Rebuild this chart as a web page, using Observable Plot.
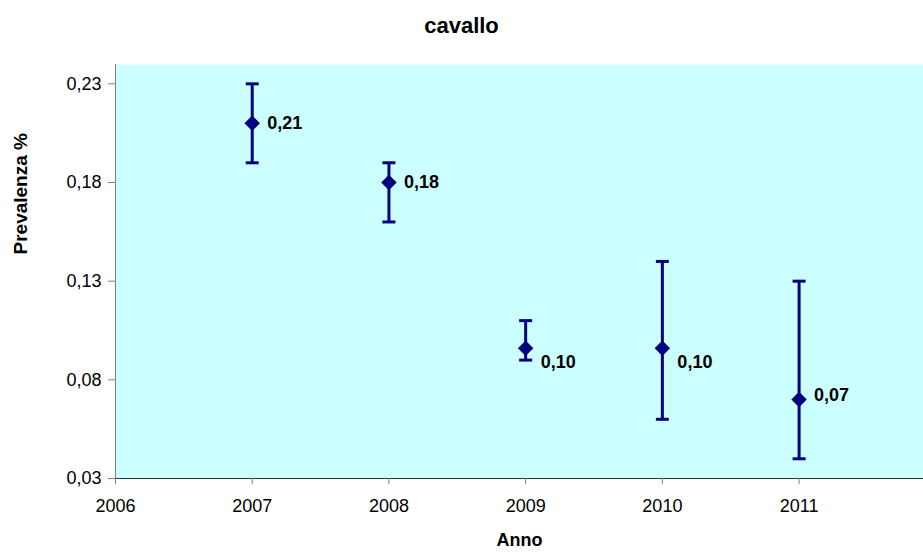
<!DOCTYPE html>
<html>
<head>
<meta charset="utf-8">
<script src="https://cdn.jsdelivr.net/npm/d3@7"></script>
<script src="https://cdn.jsdelivr.net/npm/@observablehq/plot@0.6"></script>
<style>
  html, body { margin: 0; padding: 0; background: #ffffff; }
  #chart svg { display: block; }
</style>
</head>
<body>
<div id="chart"></div>
<script>
// ---- data ----
const years = [2007, 2008, 2009, 2010, 2011];
const prevalence = [0.21, 0.18, 0.096, 0.096, 0.07];
const lower = [0.19, 0.16, 0.09, 0.06, 0.04];
const upper = [0.23, 0.19, 0.11, 0.14, 0.13];
const xTicks = [2006, 2007, 2008, 2009, 2010, 2011];
const yTicks = [0.03, 0.08, 0.13, 0.18, 0.23];
const chartTitle = "cavallo";
const xTitle = "Anno";
const yTitle = "Prevalenza %";

const fmt = v => v.toFixed(2).replace(".", ",");
const rows = years.map((year, i) => ({
  year, value: prevalence[i], lo: lower[i], hi: upper[i], label: fmt(prevalence[i])
}));

const navy = "#000080";
const font = "'Liberation Sans', Arial, Helvetica, sans-serif";

const diamondSymbol = {
  draw(ctx) {
    const r = 7.75;
    ctx.moveTo(0, -r); ctx.lineTo(r, 0); ctx.lineTo(0, r); ctx.lineTo(-r, 0); ctx.closePath();
  }
};
const capSymbol = {
  draw(ctx) {
    const w = 6.5;
    ctx.moveTo(-w, 0); ctx.lineTo(w, 0);
  }
};

const labelShift = {2009: 14, 2010: 14, 2011: -4};

const chart = Plot.plot({
  width: 923,
  height: 552,
  marginLeft: 115,
  marginRight: 0,
  marginTop: 64,
  marginBottom: 74,
  x: {domain: [2006, 2011.91]},
  y: {domain: [0.03, 0.2398]},
  style: {fontFamily: font, background: "#ffffff", color: "#000000"},
  marks: [
    Plot.frame({fill: "#ccffff", stroke: null}),
    Plot.ruleX([2006], {stroke: "#808080", strokeWidth: 1}),
    Plot.ruleY([0.03], {stroke: "#333333", strokeWidth: 1.2}),
    Plot.axisY(yTicks, {
      tickSize: 7, tickPadding: 7, fontSize: 18, stroke: "#808080",
      tickFormat: fmt, label: null
    }),
    Plot.axisX(xTicks, {
      tickSize: 6, tickPadding: 15, fontSize: 18, stroke: "#808080",
      tickFormat: d => String(d), label: null
    }),
    Plot.ruleX(rows, {x: "year", y1: "lo", y2: "hi", stroke: navy, strokeWidth: 3}),
    Plot.dot(rows, {x: "year", y: "lo", symbol: capSymbol, stroke: navy, strokeWidth: 3, fill: "none"}),
    Plot.dot(rows, {x: "year", y: "hi", symbol: capSymbol, stroke: navy, strokeWidth: 3, fill: "none"}),
    Plot.dot(rows, {x: "year", y: "value", symbol: diamondSymbol, fill: navy, stroke: null}),
    ...[0, 14, -4].map(shift => Plot.text(rows, {
      filter: d => (labelShift[d.year] ?? 0) === shift,
      x: "year", y: "value", text: "label",
      dx: 15, dy: shift, textAnchor: "start", lineAnchor: "middle",
      fontWeight: "bold", fontSize: 18, fill: "#000000"
    })),
    Plot.text([chartTitle], {
      frameAnchor: "top", dx: -58, dy: -39, lineAnchor: "middle",
      fontWeight: "bold", fontSize: 22, fill: "#000000"
    }),
    Plot.text([xTitle], {
      frameAnchor: "bottom", dy: 62, lineAnchor: "middle",
      fontWeight: "bold", fontSize: 18, fill: "#000000"
    }),
    Plot.text([yTitle], {
      frameAnchor: "left", dx: -95, dy: -17, rotate: -90, lineAnchor: "middle",
      fontWeight: "bold", fontSize: 19, fill: "#000000"
    })
  ]
});

document.getElementById("chart").appendChild(chart);
</script>
</body>
</html>
